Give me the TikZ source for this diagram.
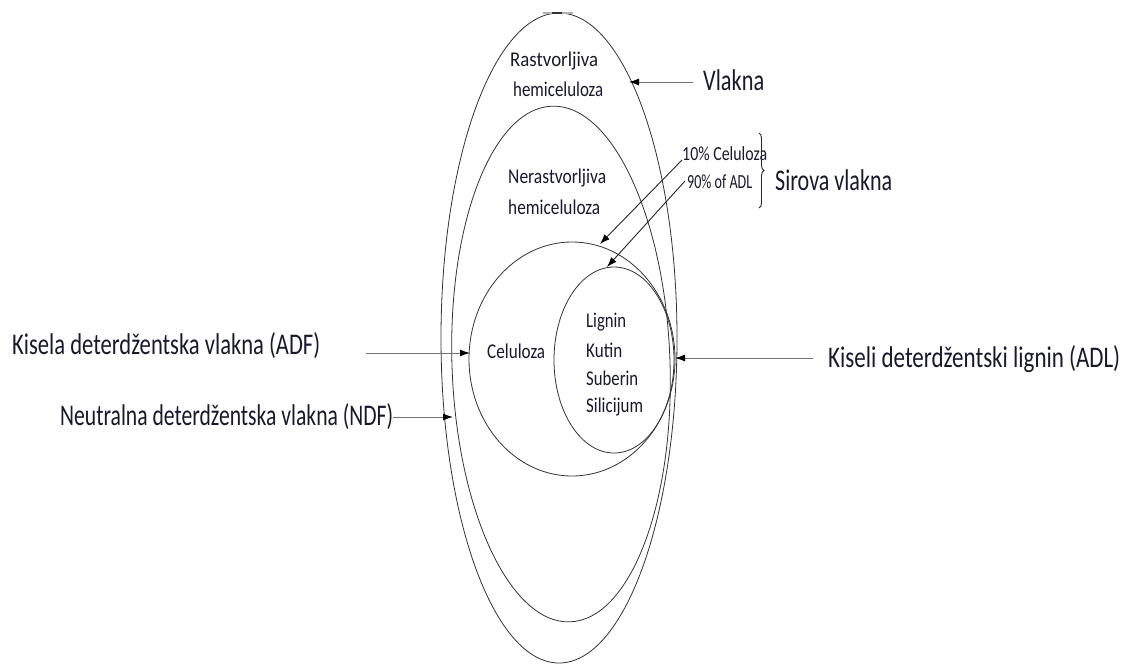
\documentclass[tikz,border=0pt]{standalone}
\usepackage{fontspec}
\setmainfont{Carlito}
\usepackage{graphicx}
\usetikzlibrary{shapes.geometric,arrows.meta,decorations.pathreplacing}
\definecolor{ink}{RGB}{25,25,45}
\newcommand\tx[3]{\resizebox{#1pt}{\height}{\fontsize{#2}{#2}\selectfont #3}}
\begin{document}
\begin{tikzpicture}[x=1pt,y=-1pt,
  lbl/.style={anchor=west,inner sep=0pt,text=ink},
  ring/.style={draw=black!80,line width=0.8pt,ellipse,inner sep=0pt},
  arr/.style={draw=black!55,line width=1pt,-{Latex[length=10pt,width=7pt,color=black]}},
  darr/.style={draw=black!85,line width=0.9pt,-{Latex[length=10pt,width=7pt,color=black]}}]
\useasboundingbox (0,0) rectangle (1123,664);
\fill[white] (0,0) rectangle (1123,664);
% nested rings
\node[ring,minimum width=236pt,minimum height=650pt] (vlring) at (559,338) {};
\node[ring,minimum width=218pt,minimum height=516pt,rotate=2] (ndfring) at (561,364) {};
\node[ring,minimum width=206pt,minimum height=234pt] (adfring) at (572,359) {};
\node[ring,minimum width=120pt,minimum height=186pt] (adlring) at (614,360) {};
% small mark at top
\draw[line width=2.5pt,black!30] (543,13) -- (573,13);
\draw[line width=2.5pt,black!80] (552,13) -- (562,13);
% labels inside
\node[lbl] (rast) at (510,61) {\tx{88}{21}{Rastvorljiva}};
\node[lbl] (rasth) at (513,89) {\tx{90}{21}{hemiceluloza}};
\node[lbl] (ner) at (508,178) {\tx{98}{21}{Nerastvorljiva}};
\node[lbl] (nerh) at (508,207) {\tx{92}{21}{hemiceluloza}};
\node[lbl] (cel) at (487,351) {\tx{58}{21}{Celuloza}};
\node[lbl] (lig) at (586,322) {\tx{40}{21}{Lignin}};
\node[lbl] (kut) at (586,350) {\tx{36}{21}{Kutin}};
\node[lbl] (sub) at (586,378) {\tx{52}{21}{Suberin}};
\node[lbl] (sil) at (586,407) {\tx{57}{21}{Silicijum}};
% labels outside
\node[lbl] (c10) at (682,154) {\tx{85}{20}{10\% Celuloza}};
\node[lbl] (a90) at (687,182) {\tx{65}{20}{90\% of ADL}};
\node[lbl] (sir) at (775,180) {\tx{117}{30}{Sirova vlakna}};
\node[lbl] (vl) at (703,80) {\tx{61}{30}{Vlakna}};
\node[lbl] (adf) at (12,346) {\tx{308}{30}{Kisela deterdžentska vlakna (ADF)}};
\node[lbl] (ndf) at (60,417) {\tx{333}{30}{Neutralna deterdžentska vlakna (NDF)}};
\node[lbl] (adl) at (828,359) {\tx{292}{30}{Kiseli deterdžentski lignin (ADL)}};
% arrows
\coordinate (adfs) at (366,353); \coordinate (adft) at (470,353);
\draw[arr] (adfs) -- (adft);
\coordinate (ndft) at (453,417);
\draw[arr] (ndf.east) -- (ndft);
\coordinate (adls) at (813,358); \coordinate (adlt) at (675,358);
\draw[arr] (adls) -- (adlt);
\coordinate (vls) at (693,82); \coordinate (vlt) at (629,82);
\draw[arr] (vls) -- (vlt);
\coordinate (c10s) at (682,160); \coordinate (c10t) at (600,244);
\draw[darr] (c10s) -- (c10t);
\coordinate (a90s) at (685,181); \coordinate (a90t) at (607,267);
\draw[darr] (a90s) -- (a90t);
% brace
\draw[black!85,line width=0.9pt,decorate,decoration={brace,amplitude=5pt}] (759,133) -- (759,208);
\end{tikzpicture}
\end{document}
